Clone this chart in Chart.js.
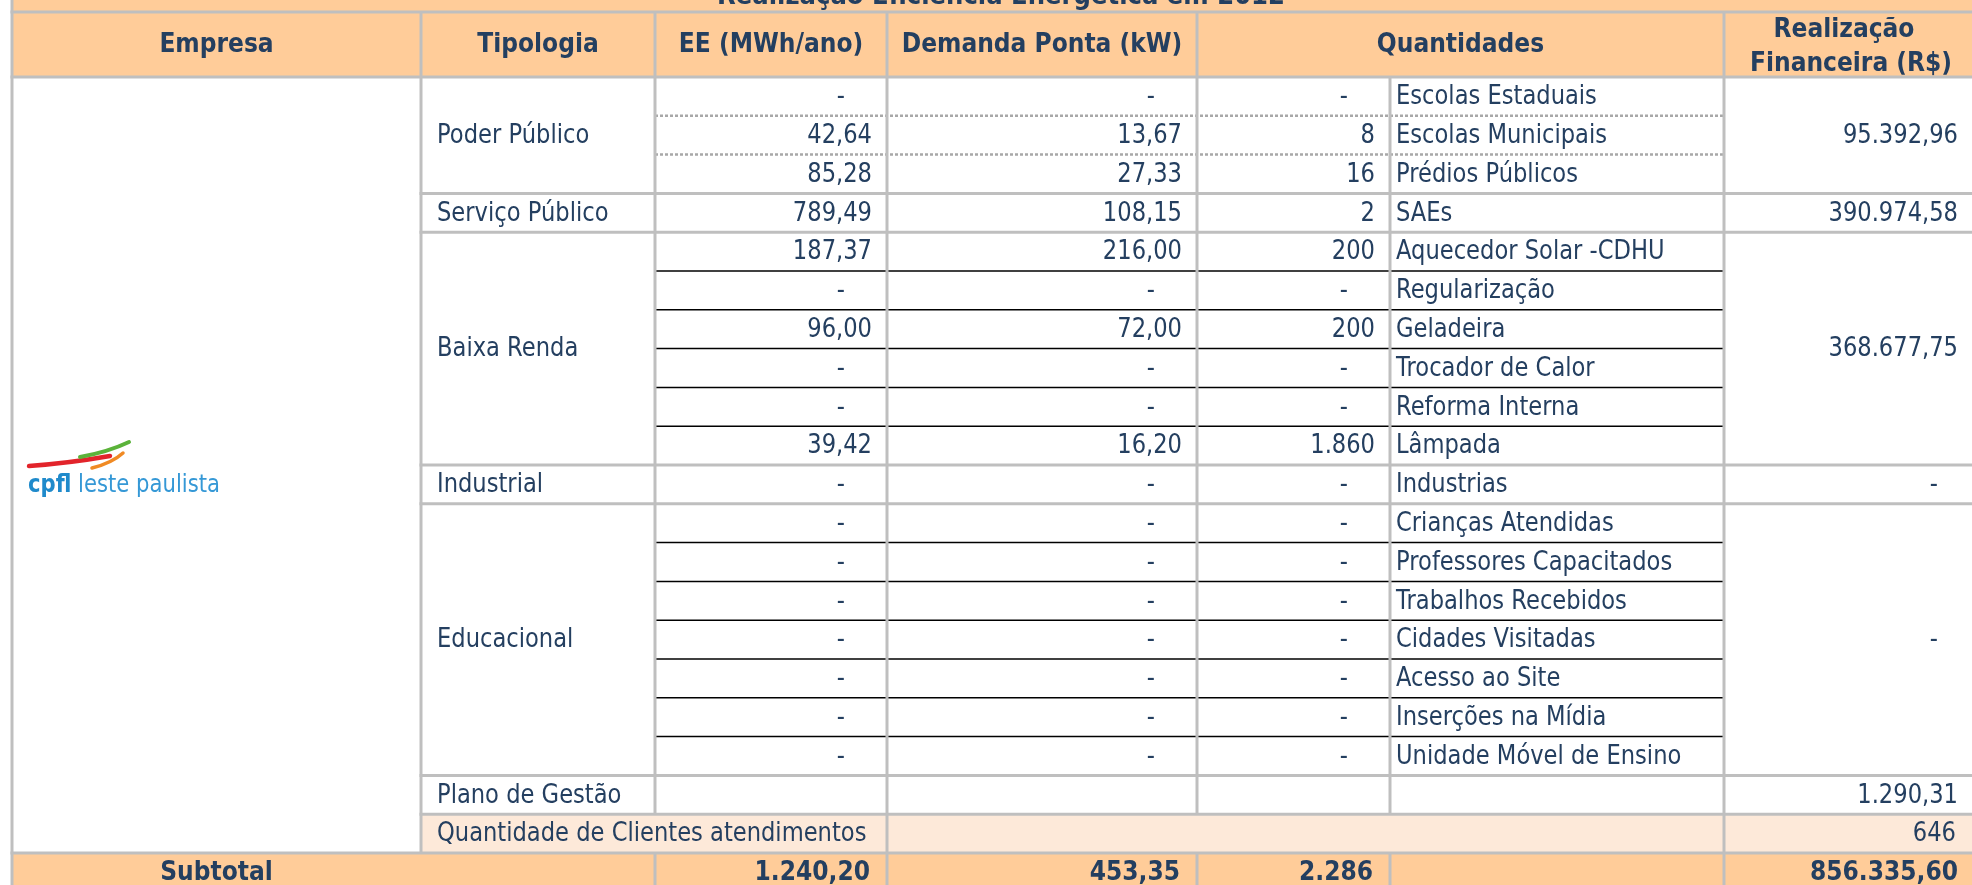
<!DOCTYPE html>
<html lang="pt-BR">
<head>
<meta charset="utf-8">
<title>Realização Eficiência Energética em 2012</title>
<script src="https://cdn.jsdelivr.net/npm/chart.js@4.4.1/dist/chart.umd.min.js"></script>
<style>
  html, body { margin: 0; padding: 0; background: #fff; }
  #wrap { position: relative; width: 1972px; height: 885px; }
</style>
</head>
<body>
<div id="wrap"><canvas id="tabela"></canvas></div>
<script>
// dados da tabela
const titulo = 'Realização Eficiência Energética em 2012';
const cabecalhos = ['Empresa', 'Tipologia', 'EE (MWh/ano)', 'Demanda Ponta (kW)', 'Quantidades'];
const cabecalhoFinanceiro = ['Realização', 'Financeira (R$)'];
const tipologias = ['Poder Público', 'Serviço Público', 'Baixa Renda', 'Industrial', 'Educacional', 'Plano de Gestão'];
const linhasPorTipologia = [3, 1, 6, 1, 7, 1];
const itens = [
    'Escolas Estaduais', 'Escolas Municipais', 'Prédios Públicos',
    'SAEs',
    'Aquecedor Solar -CDHU', 'Regularização', 'Geladeira', 'Trocador de Calor', 'Reforma Interna', 'Lâmpada',
    'Industrias',
    'Crianças Atendidas', 'Professores Capacitados', 'Trabalhos Recebidos', 'Cidades Visitadas',
    'Acesso ao Site', 'Inserções na Mídia', 'Unidade Móvel de Ensino'
];
const eeMWh = [null, 42.64, 85.28, 789.49, 187.37, null, 96.00, null, null, 39.42, null,
    null, null, null, null, null, null, null];
const demandaKW = [null, 13.67, 27.33, 108.15, 216.00, null, 72.00, null, null, 16.20, null,
    null, null, null, null, null, null, null];
const quantidades = [null, 8, 16, 2, 200, null, 200, null, null, 1860, null,
    null, null, null, null, null, null, null];
const realizacaoFinanceira = [95392.96, 390974.58, 368677.75, null, null, 1290.31];
const rotuloClientes = 'Quantidade de Clientes atendimentos';
const clientesAtendidos = 646;
const rotuloSubtotal = 'Subtotal';
const subtotais = [1240.20, 453.35, 2286, 856335.60];

// layout (bordas das colunas e alturas)
const colunas = [12, 421, 655, 887, 1197, 1390, 1724, 1972];
const ALTURA_LINHA = 38.8;
const TOPO_DADOS = 77;
const ALTURA_CABECALHO = 65 / ALTURA_LINHA;

const corCabecalho = '#FFCC99';
const corClaro = '#FDE9D9';
const corTexto = '#243F60';
const corGrade = '#BFBFBF';

// formato brasileiro: 1.240,20
function formatar(v, casas) {
    const [inteiro, dec] = v.toFixed(casas).split('.');
    const milhar = inteiro.replace(/\B(?=(\d{3})+(?!\d))/g, '.');
    return dec ? milhar + ',' + dec : milhar;
}

function texto(ctx, s, x, y, align, bold, opts = {}) {
    const size = opts.size || 26;
    const sx = opts.sx || (bold ? 0.9 : 0.87);
    ctx.save();
    ctx.font = (bold ? 'bold ' : '') + size + 'px "DejaVu Sans"';
    ctx.fillStyle = opts.cor || corTexto;
    ctx.textAlign = align;
    ctx.textBaseline = opts.baseline || 'middle';
    ctx.translate(x, y);
    ctx.scale(sx, 1);
    ctx.fillText(s, 0, 0);
    ctx.restore();
}

const tabelaPlugin = {
    id: 'tabela',
    afterDraw(chart) {
        const ctx = chart.ctx;
        const X = v => chart.scales.x.getPixelForValue(v);
        const Y = v => chart.scales.y.getPixelForValue(v);
        const esq = X(colunas[0]);
        const dir = X(colunas[7]);
        const topoCab = Y(-ALTURA_CABECALHO);
        const nDados = itens.length + 2;
        const fundo = Y(nDados + 1);

        // preenchimentos
        ctx.fillStyle = corCabecalho;
        ctx.fillRect(esq, 0, dir - esq, Y(0));
        ctx.fillRect(esq, Y(nDados), dir - esq, fundo - Y(nDados));
        ctx.fillStyle = corClaro;
        ctx.fillRect(X(colunas[1]), Y(nDados - 1), dir - X(colunas[1]), ALTURA_LINHA);

        // título (cortado no topo)
        ctx.save();
        ctx.font = 'bold 26px "DejaVu Sans"';
        const wT = ctx.measureText(titulo).width;
        ctx.restore();
        texto(ctx, titulo, X(1001), Y(-ALTURA_CABECALHO) - 8, 'center', true, { sx: 568 / wT, baseline: 'alphabetic' });

        // cabeçalho
        const cyCab = (topoCab + Y(0)) / 2 + 1;
        const spans = [[0, 1], [1, 2], [2, 3], [3, 4], [4, 6]];
        cabecalhos.forEach((h, i) => {
            const [a, b] = spans[i];
            texto(ctx, h, (X(colunas[a]) + X(colunas[b])) / 2, cyCab, 'center', true);
        });
        const cxFin = (X(colunas[6]) + X(colunas[7])) / 2;
        texto(ctx, cabecalhoFinanceiro[0], cxFin - 4, cyCab - 15, 'center', true);
        texto(ctx, cabecalhoFinanceiro[1], cxFin + 3, cyCab + 19, 'center', true);

        const valor = (v, casas, borda, cy, bold) => {
            if (v === null) {
                texto(ctx, '-', X(borda) - 42, cy, 'right', false);
            } else {
                texto(ctx, formatar(v, casas), X(borda) - (bold ? 17 : 15), cy, 'right', bold);
            }
        };

        // tipologias e realização financeira (células mescladas)
        let r0 = 0;
        tipologias.forEach((tip, g) => {
            const n = linhasPorTipologia[g];
            const cy = Y(r0 + n / 2) + 1;
            texto(ctx, tip, X(colunas[1]) + 16, cy, 'left', false);
            const v = realizacaoFinanceira[g];
            if (v === null) {
                texto(ctx, '-', X(colunas[7]) - 34, cy, 'right', false);
            } else {
                texto(ctx, formatar(v, 2), X(colunas[7]) - 14, cy, 'right', false);
            }
            r0 += n;
        });

        // itens
        itens.forEach((item, i) => {
            const cy = Y(i + 0.5) + 1;
            valor(eeMWh[i], 2, colunas[3], cy);
            valor(demandaKW[i], 2, colunas[4], cy);
            valor(quantidades[i], 0, colunas[5], cy);
            texto(ctx, item, X(colunas[5]) + 6, cy, 'left', false);
        });

        // clientes atendidos
        const cyCli = Y(nDados - 0.5) + 1;
        texto(ctx, rotuloClientes, X(colunas[1]) + 16, cyCli, 'left', false);
        texto(ctx, formatar(clientesAtendidos, 0), X(colunas[7]) - 16, cyCli, 'right', false);

        // subtotal
        const cySub = Y(nDados + 0.5) + 1;
        texto(ctx, rotuloSubtotal, (X(colunas[0]) + X(colunas[1])) / 2, cySub, 'center', true);
        valor(subtotais[0], 2, colunas[3], cySub, true);
        valor(subtotais[1], 2, colunas[4], cySub, true);
        valor(subtotais[2], 0, colunas[5], cySub, true);
        texto(ctx, formatar(subtotais[3], 2), X(colunas[7]) - 14, cySub, 'right', true);

        // linhas finas pretas (Baixa Renda, Educacional)
        ctx.save();
        ctx.strokeStyle = '#000';
        ctx.lineWidth = 1.5;
        [5, 6, 7, 8, 9, 12, 13, 14, 15, 16, 17].forEach(r => {
            ctx.beginPath();
            ctx.moveTo(X(colunas[2]), Y(r));
            ctx.lineTo(X(colunas[6]), Y(r));
            ctx.stroke();
        });
        // pontilhadas (Poder Público)
        ctx.strokeStyle = '#A8A8A8';
        ctx.lineWidth = 2.5;
        ctx.setLineDash([3, 2]);
        [1, 2].forEach(r => {
            ctx.beginPath();
            ctx.moveTo(X(colunas[2]), Y(r));
            ctx.lineTo(X(colunas[6]), Y(r));
            ctx.stroke();
        });
        ctx.restore();

        // grade cinza
        ctx.save();
        ctx.strokeStyle = corGrade;
        ctx.lineWidth = 3;
        const h = (r, a, b) => {
            ctx.beginPath();
            ctx.moveTo(a, Y(r));
            ctx.lineTo(b, Y(r));
            ctx.stroke();
        };
        const v = (c, a, b) => {
            ctx.beginPath();
            ctx.moveTo(X(c), a);
            ctx.lineTo(X(c), b);
            ctx.stroke();
        };
        h(-ALTURA_CABECALHO, esq - 1.5, dir);
        h(0, esq - 1.5, dir);
        [3, 4, 10, 11, 18, 19].forEach(r => h(r, X(colunas[1]) - 1.5, dir));
        h(nDados, esq - 1.5, dir);

        v(colunas[0], 0, fundo);
        v(colunas[1], topoCab, Y(nDados));
        v(colunas[2], topoCab, Y(nDados - 1));
        v(colunas[2], Y(nDados), fundo);
        v(colunas[3], topoCab, fundo);
        v(colunas[4], topoCab, Y(nDados - 1));
        v(colunas[4], Y(nDados), fundo);
        v(colunas[5], Y(0), Y(nDados - 1));
        v(colunas[5], Y(nDados), fundo);
        v(colunas[6], topoCab, fundo);
        ctx.restore();

        // logotipo
        ctx.save();
        ctx.lineCap = 'round';
        const traco = (cor, w, x1, y1, cx, cy2, x2, y2) => {
            ctx.strokeStyle = cor;
            ctx.lineWidth = w;
            ctx.beginPath();
            ctx.moveTo(X(x1), y1);
            ctx.quadraticCurveTo(X(cx), cy2, X(x2), y2);
            ctx.stroke();
        };
        traco('#E2242B', 4.5, 29, 466, 70, 463, 110, 456);
        traco('#5BB33A', 4, 80, 457, 108, 452, 129, 442);
        traco('#F08A24', 3.5, 92, 468, 112, 463, 123, 453);
        ctx.restore();
        ctx.save();
        ctx.font = 'bold 25px "DejaVu Sans"';
        const wc = ctx.measureText('cpfl').width;
        ctx.font = '25px "DejaVu Sans"';
        const wr = ctx.measureText(' leste paulista').width;
        const sl = 192 / (wc + wr);
        ctx.translate(X(28), 492);
        ctx.scale(sl, 1);
        ctx.textBaseline = 'alphabetic';
        ctx.font = 'bold 25px "DejaVu Sans"';
        ctx.fillStyle = '#1F8ACB';
        ctx.fillText('cpfl', 0, 0);
        ctx.font = '25px "DejaVu Sans"';
        ctx.fillStyle = '#3598D6';
        ctx.fillText(' leste paulista', wc, 0);
        ctx.restore();
    }
};

const canvas = document.getElementById('tabela');
new Chart(canvas.getContext('2d'), {
    type: 'scatter',
    data: { datasets: [] },
    options: {
        responsive: true,
        maintainAspectRatio: false,
        animation: false,
        events: [],
        layout: { padding: 0 },
        plugins: {
            legend: { display: false },
            tooltip: { enabled: false }
        },
        scales: {
            x: { type: 'linear', min: 0, max: 1972, display: false },
            y: {
                type: 'linear',
                min: -TOPO_DADOS / ALTURA_LINHA,
                max: (885 - TOPO_DADOS) / ALTURA_LINHA,
                reverse: true,
                display: false
            }
        }
    },
    plugins: [tabelaPlugin]
});
</script>
</body>
</html>
